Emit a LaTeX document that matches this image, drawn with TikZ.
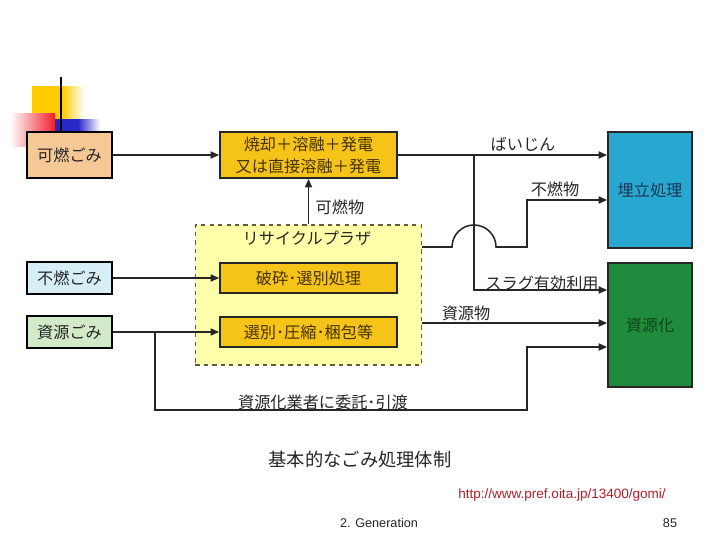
\documentclass[tikz,border=0pt]{standalone}
\usepackage{fontspec}
\setmainfont{Noto Sans CJK JP}
\newfontfamily\footfont{Liberation Sans}
\usepackage{tikz}
\usetikzlibrary{arrows.meta}
\definecolor{kanenfill}{RGB}{246, 200, 150}
\definecolor{funenfill}{RGB}{214, 238, 245}
\definecolor{shigenfill}{RGB}{210, 234, 200}
\definecolor{procgold}{RGB}{246, 196, 24}
\definecolor{procbrown}{RGB}{70, 50, 5}
\definecolor{plazafill}{RGB}{255, 255, 170}
\definecolor{plazaborder}{RGB}{95, 95, 60}
\definecolor{umetatefill}{RGB}{40, 168, 208}
\definecolor{umetatetext}{RGB}{25, 55, 85}
\definecolor{shigenkafill}{RGB}{30, 140, 60}
\definecolor{shigenkatext}{RGB}{15, 70, 25}
\definecolor{urlred}{RGB}{180, 30, 40}
\definecolor{decoyellow}{RGB}{255, 204, 0}
\definecolor{decored}{RGB}{240, 30, 40}
\definecolor{decoblue}{RGB}{40, 40, 200}

\begin{document}
\begin{tikzpicture}[x=0.025cm, y=-0.025cm,
  every node/.style={font=\fontsize{11.5}{15.5}\selectfont, text=black!85},
  wastebox/.style={draw=black, line width=1.4pt, minimum width=2.125cm},
  procbox/.style={draw=black!85, line width=1.2pt, fill=procgold, minimum width=4.425cm, text=procbrown},
  endbox/.style={draw=black!85, line width=1.2pt, minimum width=2.1cm},
  flow/.style={-{Triangle[length=6pt, width=5pt]}, line width=1.1pt, black!85}]
\useasboundingbox (0,0) rectangle (720,540);
\fill[white] (0,0) rectangle (720,540);
% Slide corner
\fill[decoyellow] (32,86) rectangle (62,120);
\shade[left color=decoyellow, right color=white] (62,86) rectangle (84,120);
\shade[left color=white, right color=decored] (10,113) rectangle (55,146);
\fill[decoblue] (55,119) rectangle (78,133);
\shade[left color=decoblue, right color=white] (78,119) rectangle (100,133);
\draw[line width=1.5pt] (61,77) -- (61,132);
% Waste inputs
\node[wastebox, fill=kanenfill, minimum height=1.15cm] (kanen) at (69.5,155) {可燃ごみ};
\node[wastebox, fill=funenfill, minimum height=0.8cm] (funen) at (69.5,278) {不燃ごみ};
\node[wastebox, fill=shigenfill, minimum height=0.8cm] (shigen) at (69.5,332) {資源ごみ};
% Incineration
\node[procbox, minimum height=1.15cm, align=center] (shokyaku) at (308.5,155) {焼却＋溶融＋発電\\又は直接溶融＋発電};
% Recycle plaza
\node[draw=plazaborder, dashed, line width=1pt, fill=plazafill, minimum width=5.65cm, minimum height=3.5cm] (plaza) at (308.5,295) {};
\node (plazatitle) at (307,238) {リサイクルプラザ};
\node[procbox, minimum height=0.75cm] (hasai) at (308.5,278) {破砕･選別処理};
\node[procbox, minimum height=0.75cm] (senbetsu) at (308.5,332) {選別･圧縮･梱包等};
% Destinations
\node[endbox, fill=umetatefill, minimum height=2.9cm, text=umetatetext] (umetate) at (650,190) {埋立処理};
\node[endbox, fill=shigenkafill, minimum height=3.1cm, text=shigenkatext] (shigenka) at (650,325) {資源化};
% Flows
\draw[flow] (kanen.east) -- (shokyaku.west);
\draw[flow] (funen.east) -- (hasai.west);
\draw[flow] (shigen.east) -- (senbetsu.west);
\draw[flow] (plaza.north) -- (shokyaku.south);
\draw[flow] (shokyaku.east) -- (shokyaku.east -| umetate.west);
\coordinate (slagjoint) at (474,155);
\draw[flow] (slagjoint) |- ([yshift=0.875cm]shigenka.west);
\draw[flow] (plaza.east |- 0,247) -- (452,247) arc[start angle=180, end angle=0, radius=0.55cm] -- (527,247) |- (umetate.west |- 0,200);
\draw[flow] (plaza.east |- 0,323) -- (shigenka.west |- 0,323);
\coordinate (itaku) at (155,332);
\draw[flow] (itaku) |- (527,410) |- (shigenka.west |- 0,347);
% Labels
\node (kanenbutsu) at (340,207) {可燃物};
\node (baijin) at (523,144) {ばいじん};
\node (funenbutsu) at (555,189) {不燃物};
\node (slag) at (542,283) {スラグ有効利用};
\node (shigenbutsu) at (466,313) {資源物};
\node (itakulbl) at (323,402) {資源化業者に委託･引渡};
\node[font=\fontsize{13}{15}\selectfont] (caption) at (360,460) {基本的なごみ処理体制};
% Footer
\node[font=\footfont\fontsize{9.6}{11}\selectfont, text=urlred] (url) at (562,495) {http://www.pref.oita.jp/13400/gomi/};
\node[font=\footfont\fontsize{9}{11}\selectfont] (footer) at (379,523) {2. Generation};
\node[font=\footfont\fontsize{9}{11}\selectfont] (pagenum) at (670,523) {85};
\end{tikzpicture}
\end{document}
